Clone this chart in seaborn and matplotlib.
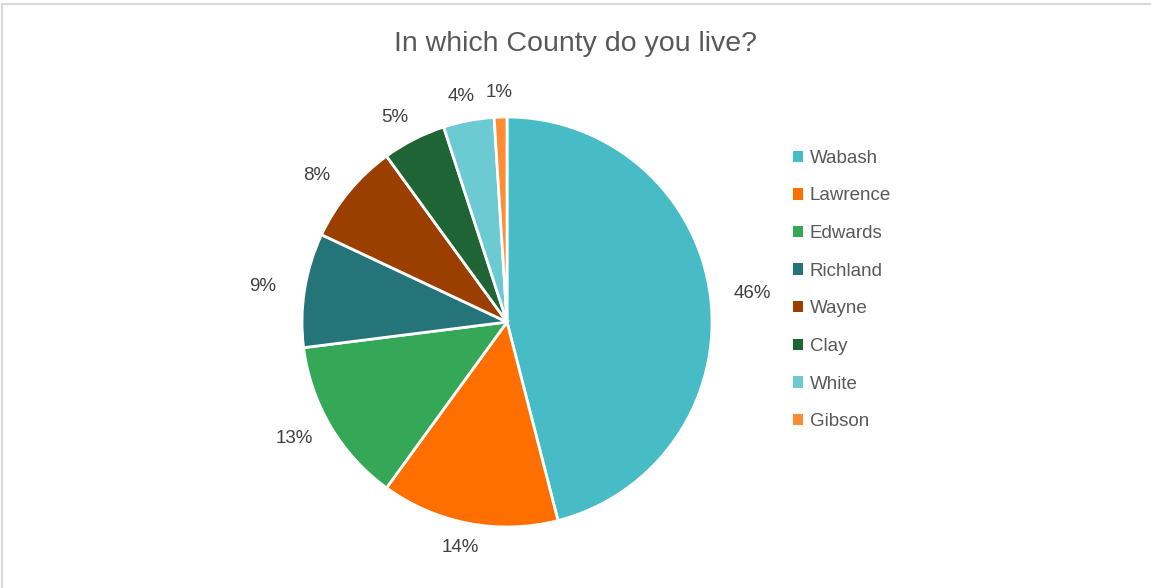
import numpy as np
import seaborn as sns
import matplotlib.pyplot as plt
from matplotlib.patches import Rectangle

sns.set_theme(style="white")
plt.rcParams["font.family"] = ["Liberation Sans", "DejaVu Sans"]

counties = ["Wabash", "Lawrence", "Edwards", "Richland", "Wayne", "Clay", "White", "Gibson"]
share = [46, 14, 13, 9, 8, 5, 4, 1]
colors = ["#47BCC6", "#FF6F00", "#35A857", "#24747A", "#9A3F00", "#1F6434", "#6CCAD2", "#FF8C33"]
palette = sns.color_palette(colors)

fig = plt.figure(figsize=(11.51, 5.88), dpi=100)
fig.patches.append(Rectangle((0.0018, -0.01), 1.2, 1.003, transform=fig.transFigure,
                             fill=False, edgecolor="#D9D9D9", linewidth=1.5))

cx, cy = 507 / 1151, 1 - 322 / 588
w, h = 410 / 1151, 410 / 588
ax = fig.add_axes([cx - w / 2, cy - h / 2, w, h])

wedges, _ = ax.pie(
    share, colors=palette, startangle=90, counterclock=False,
    wedgeprops=dict(edgecolor="white", linewidth=2),
)
ax.set_xlim(-1, 1)
ax.set_ylim(-1, 1)
ax.set_aspect("equal")

# labels just outside each wedge, pushed out like Excel's outside-end labels
for wdg, val in zip(wedges, share):
    ang = np.deg2rad((wdg.theta1 + wdg.theta2) / 2)
    c, s = np.cos(ang), np.sin(ang)
    ax.annotate(f"{val}%", xy=(1.05 * c, 1.05 * s), xytext=(23 * c, 10 * s),
                textcoords="offset points", ha="center", va="center",
                fontsize=13.5, color="#404040", annotation_clip=False)

fig.text(0.5, 1 - 44 / 588, "In which County do you live?", ha="center", va="center",
         fontsize=20.5, color="#595959")

leg = fig.legend(wedges, counties, loc="upper left", bbox_to_anchor=(776 / 1151, 1 - 133 / 588),
                 frameon=False, fontsize=13.5, handlelength=0.55, handleheight=0.55,
                 handletextpad=0.35, labelspacing=1.1, labelcolor="#595959")
for hnd in leg.legend_handles:
    hnd.set_edgecolor("none")

fig.savefig("out.png", dpi=100)
